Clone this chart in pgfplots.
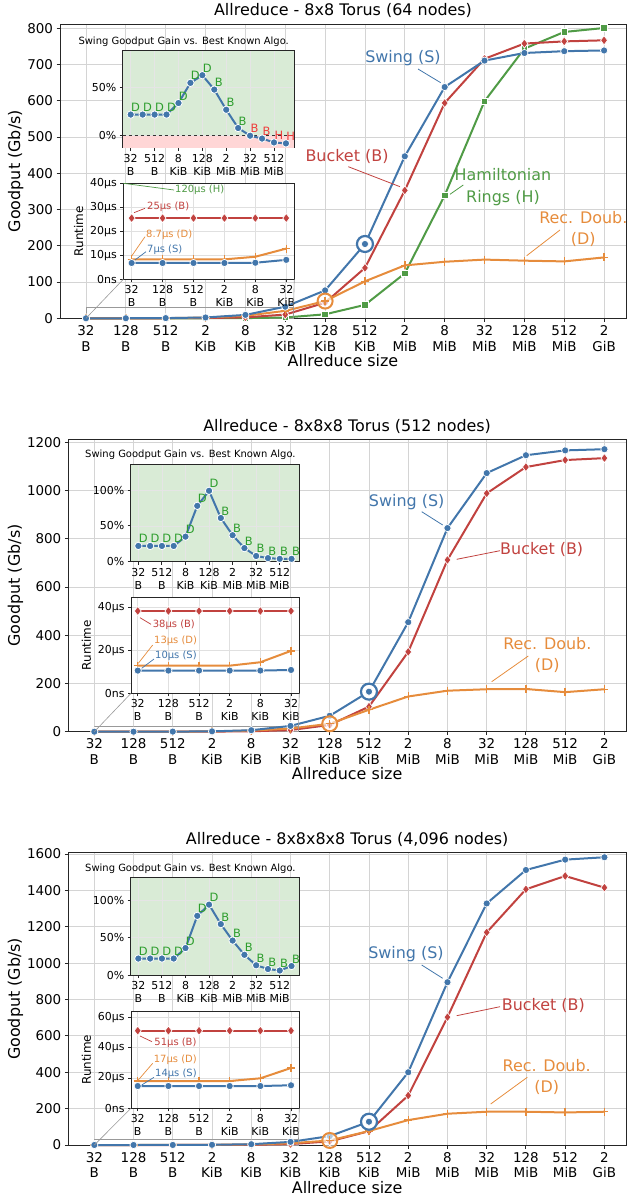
\documentclass[border=0pt]{standalone}
\usepackage{fontspec}
\setmainfont{DejaVu Sans}
\usepackage{pgfplots}
\pgfplotsset{compat=1.18}

\definecolor{sblue}{HTML}{4276AB}
\definecolor{bred}{HTML}{C1423F}
\definecolor{hgreen}{HTML}{509B46}
\definecolor{dorange}{HTML}{E68C3C}
\definecolor{lblgreen}{HTML}{2E9E2E}
\definecolor{lblred}{HTML}{F03C3C}
\definecolor{bggreen}{HTML}{D9EBD6}
\definecolor{bgpink}{HTML}{FFD6D6}

\newcommand{\ftick}{\fontsize{13.5}{16}\selectfont}
\newcommand{\flab}{\fontsize{16}{19}\selectfont}
\newcommand{\fann}{\fontsize{16}{21.5}\selectfont}
\newcommand{\fin}{\fontsize{11}{12.7}\selectfont}
\newcommand{\fsm}{\fontsize{10}{12}\selectfont}
\newcommand{\fgain}{\fontsize{11.5}{13}\selectfont}

\tikzset{zoomrect/.style={draw=black!40, line width=0.6bp}}

\pgfplotsset{
  common/.style={scale only axis, anchor=south west, tick align=outside, tick pos=left,
    major tick length=3.5bp, axis line style={draw=black!85, line width=0.9bp},
    tick style={draw=black!85, line width=0.9bp}, grid=major, clip=false,
    /pgf/number format/assume math mode=true, /pgf/number format/1000 sep={}},
  mainax/.style={common, ymin=0, xtick={0,...,13},
    xticklabels={{32\\B},{128\\B},{512\\B},{2\\KiB},{8\\KiB},{32\\KiB},{128\\KiB},{512\\KiB},{2\\MiB},{8\\MiB},{32\\MiB},{128\\MiB},{512\\MiB},{2\\GiB}},
    x tick label style={align=center, font=\ftick},
    y tick label style={font=\ftick},
    label style={font=\flab}, title style={font=\flab, yshift=-3.5bp},
    xlabel={Allreduce size}, xlabel style={yshift=4bp}, ylabel={Goodput (Gb/s)},
    ylabel style={yshift=-3bp},
    grid style={draw=black!17, line width=0.8bp}},
  gainax/.style={common, axis background/.style={fill=bggreen}, xtick={0,2,...,12},
    xticklabels={{32\\B},{512\\B},{8\\KiB},{128\\KiB},{2\\MiB},{32\\MiB},{512\\MiB}},
    x tick label style={align=center, font=\fin}, y tick label style={font=\fin},
    yticklabel={\pgfmathprintnumber{\tick}\%}, major tick length=3bp,
    grid style={draw=black!10, line width=0.6bp}},
  rtax/.style={common, axis background/.style={fill=white}, ymin=0, xtick={0,...,5},
    xticklabels={{32\\B},{128\\B},{512\\B},{2\\KiB},{8\\KiB},{32\\KiB}},
    x tick label style={align=center, font=\fin}, y tick label style={font=\fin},
    ylabel={Runtime}, ylabel style={font=\fontsize{12}{14}\selectfont}, major tick length=3bp,
    grid style={draw=black!12, line width=0.6bp}},
  pS/.style={sblue, line width=2bp, mark=*, mark size=3.6bp, mark options={fill=sblue, draw=white, line width=0.7bp, solid}},
  pB/.style={bred, line width=2bp, mark=diamond*, mark size=4.6bp, mark options={fill=bred, draw=white, line width=0.7bp}},
  pH/.style={hgreen, line width=2bp, mark=square*, mark size=3.3bp, mark options={fill=hgreen, draw=white, line width=0.7bp}},
  pD/.style={dorange, line width=2bp, mark=+, mark size=4bp, mark options={draw=dorange, line width=1.4bp}},
  pG/.style={sblue, line width=2bp, mark=*, mark size=3.7bp, mark options={fill=sblue, draw=white, line width=0.8bp}},
  lblG/.style={draw=none, nodes near coords, point meta=explicit symbolic,
    nodes near coords style={anchor=south west, inner sep=0.3bp, yshift=2.5bp, font=\fgain, text=lblgreen}},
  lblR/.style={lblG, nodes near coords style={text=lblred}},
  ringS/.style={only marks, mark=*, mark size=8bp, mark options={draw=sblue, fill=white, line width=2.2bp}},
  ringD/.style={only marks, mark=*, mark size=7.5bp, mark options={draw=dorange, fill=white, fill opacity=0.6, line width=2bp}},
}

\begin{document}
\begin{tikzpicture}
\useasboundingbox (0,0) rectangle (628bp,-1197bp);

% ---------------- Panel 1 ----------------
\begin{axis}[mainax, at={(60bp,-318.3bp)}, width=566bp, height=294.3bp,
  xmin=-0.652, xmax=13.55, ymax=812, ytick={0,100,...,800},
  title={Allreduce - 8x8 Torus (64 nodes)}]
\draw[zoomrect] (axis cs:0,0) rectangle (axis cs:5.2,30);
\coordinate (z1a) at (axis cs:0,0);
\coordinate (z1b) at (axis cs:5.2,0);
\addplot[pH] coordinates {(0,0.002) (1,0.01) (2,0.03) (3,0.14) (4,0.55) (5,2.2) (6,11) (7,37) (8,124) (9,339) (10,599) (11,744) (12,790) (13,801)};
\addplot[pB] coordinates {(0,0.01) (1,0.04) (2,0.16) (3,0.64) (4,2.6) (5,10.3) (6,43) (7,139) (8,353) (9,594) (10,716) (11,758) (12,764) (13,767)};
\addplot[pD] coordinates {(0,0.03) (1,0.12) (2,0.5) (3,2.0) (4,7.0) (5,20.5) (6,47.5) (7,102) (8,146) (9,156) (10,162) (11,159) (12,157) (13,168)};
\addplot[pS] coordinates {(0,0.04) (1,0.15) (2,0.6) (3,2.3) (4,9.4) (5,32) (6,77) (7,205) (8,447) (9,638) (10,711) (11,732) (12,737) (13,739)};
\addplot[ringD] coordinates {(6,47.5)};
\addplot[pD, only marks] coordinates {(6,47.5)};
\addplot[ringS] coordinates {(7,205)};
\addplot[pS, only marks] coordinates {(7,205)};
\end{axis}

\begin{axis}[gainax, at={(122.7bp,-147.7bp)}, width=171.6bp, height=97bp,
  xmin=-0.67, xmax=13.7, ymin=-12.5, ymax=88.5, ytick={0,50}]
\fill[bgpink] (axis cs:-0.67,-12.5) rectangle (axis cs:13.7,0);
\draw[black!80, dashed, line width=0.9bp] (axis cs:-0.67,0) -- (axis cs:13.7,0);
\addplot[pG] coordinates {(0,22) (1,22) (2,22) (3,22) (4,34) (5,55) (6,63) (7,48) (8,27) (9,8) (10,0) (11,-3) (12,-7) (13,-8)};
\addplot[lblG] coordinates {(0,22)[D] (1,22)[D] (2,22)[D] (3,22)[D] (4,34)[D] (5,55)[D] (6,63)[D] (7,48)[B] (8,27)[B] (9,8)[B]};
\addplot[lblR] coordinates {(10,0)[B] (11,-3)[B] (12,-7)[H] (13,-8)[H]};
\end{axis}

\begin{axis}[rtax, name=rt1, at={(123.3bp,-279.3bp)}, width=171bp, height=96bp,
  xmin=-0.27, xmax=5.26, ymax=40, ytick={0,10,20,30,40},
  yticklabels={0ns,10µs,20µs,30µs,40µs}]
\addplot[pB] coordinates {(0,25.5) (1,25.5) (2,25.5) (3,25.5) (4,25.5) (5,25.5)};
\addplot[pD] coordinates {(0,8.3) (1,8.3) (2,8.3) (3,8.3) (4,9.4) (5,12.8)};
\addplot[pS] coordinates {(0,6.8) (1,6.8) (2,6.8) (3,6.8) (4,6.9) (5,8.1)};
\end{axis}
\draw[zoomrect] (rt1.south west) -- (z1a) (rt1.south east) -- (z1b);

% ---------------- Panel 2 ----------------
\begin{axis}[mainax, at={(68.3bp,-731.7bp)}, width=557.7bp, height=292.4bp,
  xmin=-0.663, xmax=13.55, ymax=1212, ytick={0,200,...,1200},
  title={Allreduce - 8x8x8 Torus (512 nodes)}]
\draw[zoomrect] (axis cs:0,0) rectangle (axis cs:5.2,24);
\coordinate (z2a) at (axis cs:0,0);
\coordinate (z2b) at (axis cs:5.2,0);
\addplot[pB] coordinates {(0,0.007) (1,0.027) (2,0.11) (3,0.43) (4,1.7) (5,6.8) (6,28) (7,104) (8,331) (9,712) (10,988) (11,1097) (12,1126) (13,1134)};
\addplot[pD] coordinates {(0,0.02) (1,0.08) (2,0.32) (3,1.27) (4,4.5) (5,13.2) (6,33) (7,91) (8,146) (9,170) (10,176) (11,177) (12,164) (13,176)};
\addplot[pS] coordinates {(0,0.024) (1,0.1) (2,0.39) (3,1.55) (4,6.2) (5,24) (6,66) (7,166) (8,454) (9,844) (10,1072) (11,1146) (12,1166) (13,1171)};
\addplot[ringD] coordinates {(6,33)};
\addplot[pD, only marks] coordinates {(6,33)};
\addplot[ringS] coordinates {(7,166)};
\addplot[pS, only marks] coordinates {(7,166)};
\end{axis}

\begin{axis}[gainax, at={(130.7bp,-561.7bp)}, width=168.6bp, height=97.4bp,
  xmin=-0.65, xmax=13.66, ymin=0, ymax=136, ytick={0,50,100}]
\addplot[pG] coordinates {(0,22) (1,22) (2,22) (3,22) (4,35) (5,78) (6,99) (7,61) (8,37) (9,19) (10,8) (11,5) (12,4) (13,4)};
\addplot[lblG] coordinates {(0,22)[D] (1,22)[D] (2,22)[D] (3,22)[D] (4,35)[D] (5,78)[D] (6,99)[D] (7,61)[B] (8,37)[B] (9,19)[B] (10,8)[B] (11,5)[B] (12,4)[B] (13,4)[B]};
\end{axis}

\begin{axis}[rtax, name=rt2, at={(131bp,-693.3bp)}, width=168.3bp, height=96bp,
  xmin=-0.22, xmax=5.27, ymax=44.8, ytick={0,20,40},
  yticklabels={0ns,20µs,40µs}]
\addplot[pB] coordinates {(0,38.4) (1,38.4) (2,38.4) (3,38.4) (4,38.4) (5,38.4)};
\addplot[pD] coordinates {(0,12.9) (1,12.9) (2,12.9) (3,12.9) (4,14.5) (5,19.8)};
\addplot[pS] coordinates {(0,10.6) (1,10.6) (2,10.6) (3,10.6) (4,10.6) (5,10.9)};
\end{axis}
\draw[zoomrect] (rt2.south west) -- (z2a) (rt2.south east) -- (z2b);

% ---------------- Panel 3 ----------------
\begin{axis}[mainax, at={(68.3bp,-1145bp)}, width=557.7bp, height=292.3bp,
  xmin=-0.663, xmax=13.55, ymax=1607, ytick={0,200,...,1600},
  title={Allreduce - 8x8x8x8 Torus (4,096 nodes)}]
\draw[zoomrect] (axis cs:0,0) rectangle (axis cs:5.2,30);
\coordinate (z3a) at (axis cs:0,0);
\coordinate (z3b) at (axis cs:5.2,0);
\addplot[pB] coordinates {(0,0.005) (1,0.02) (2,0.08) (3,0.33) (4,1.3) (5,5.1) (6,20) (7,76) (8,272) (9,703) (10,1169) (11,1406) (12,1479) (13,1415)};
\addplot[pD] coordinates {(0,0.014) (1,0.057) (2,0.23) (3,0.91) (4,3.3) (5,9.6) (6,25) (7,77) (8,137) (9,172) (10,183) (11,183) (12,179) (13,183)};
\addplot[pS] coordinates {(0,0.017) (1,0.07) (2,0.28) (3,1.1) (4,4.5) (5,17.2) (6,49) (7,128) (8,400) (9,895) (10,1328) (11,1512) (12,1569) (13,1582)};
\addplot[ringD] coordinates {(6,25)};
\addplot[pD, only marks] coordinates {(6,25)};
\addplot[ringS] coordinates {(7,128)};
\addplot[pS, only marks] coordinates {(7,128)};
\end{axis}

\begin{axis}[gainax, at={(130.7bp,-975bp)}, width=168.6bp, height=97.3bp,
  xmin=-0.65, xmax=13.66, ymin=0, ymax=130, ytick={0,50,100}]
\addplot[pG] coordinates {(0,22) (1,22) (2,22) (3,22) (4,36) (5,79) (6,94) (7,68) (8,46) (9,27) (10,13) (11,8) (12,6) (13,12)};
\addplot[lblG] coordinates {(0,22)[D] (1,22)[D] (2,22)[D] (3,22)[D] (4,36)[D] (5,79)[D] (6,94)[D] (7,68)[B] (8,46)[B] (9,27)[B] (10,13)[B] (11,8)[B] (12,6)[B] (13,12)[B]};
\end{axis}

\begin{axis}[rtax, name=rt3, at={(131bp,-1108.3bp)}, width=168.3bp, height=97.3bp,
  xmin=-0.22, xmax=5.27, ymax=64.2, ytick={0,20,40,60},
  yticklabels={0ns,20µs,40µs,60µs}]
\addplot[pB] coordinates {(0,51.2) (1,51.2) (2,51.2) (3,51.2) (4,51.2) (5,51.2)};
\addplot[pD] coordinates {(0,18) (1,18) (2,18) (3,18) (4,19.8) (5,26.6)};
\addplot[pS] coordinates {(0,14.7) (1,14.7) (2,14.7) (3,14.7) (4,14.7) (5,15.2)};
\end{axis}
\draw[zoomrect] (rt3.south west) -- (z3a) (rt3.south east) -- (z3b);

% ---------------- annotations (pixel coordinates) ----------------
\begin{scope}[x=1bp, y=-1bp, font=\fann]
% panel 1
\node[text=sblue] at (403,58) {Swing (S)};
\draw[sblue, line width=0.8bp] (418,69) -- (440.7,82.7);
\node[text=bred] at (347,156.7) {Bucket (B)};
\draw[bred, line width=0.8bp] (348.3,166.7) -- (400,186.7);
\node[text=hgreen, align=center] at (503,187.3) {Hamiltonian\\Rings (H)};
\draw[hgreen, line width=0.8bp] (463.3,185) -- (450,194.3);
\node[text=dorange, align=center] at (583.3,229) {Rec. Doub.\\(D)};
\draw[dorange, line width=0.8bp] (560,230) -- (526.7,255.7);
\node[anchor=west, font=\fsm] at (75,41.7) {Swing Goodput Gain vs. Best Known Algo.};
\node[anchor=west, font=\fsm, text=hgreen, inner sep=1bp] at (174,189.3) {120µs (H)};
\draw[hgreen, line width=0.7bp] (123.3,183.3) -- (174,190);
\node[anchor=west, font=\fsm, text=bred, inner sep=1bp] at (146,206.7) {25µs (B)};
\draw[bred, line width=0.7bp] (134,212.7) -- (145,208.3);
\node[anchor=west, font=\fsm, text=dorange, inner sep=1bp] at (145,234.3) {8.7µs (D)};
\draw[dorange, line width=0.7bp] (131.7,256) -- (145,236.7);
\node[anchor=west, font=\fsm, text=sblue, inner sep=1bp] at (146,249.3) {7µs (S)};
\draw[sblue, line width=0.7bp] (135,260) -- (146,251.7);
% panel 2
\node[text=sblue] at (406.7,501.7) {Swing (S)};
\draw[sblue, line width=0.8bp] (421.7,511.7) -- (442.7,525);
\node[text=bred] at (541.7,549.3) {Bucket (B)};
\draw[bred, line width=0.8bp] (500,550.7) -- (456.7,559.3);
\node[text=dorange, align=center] at (547.3,655) {Rec. Doub.\\(D)};
\draw[dorange, line width=0.8bp] (528.3,656) -- (491.7,681.7);
\node[anchor=west, font=\fsm] at (81.7,455) {Swing Goodput Gain vs. Best Known Algo.};
\node[anchor=west, font=\fsm, text=bred, inner sep=1bp] at (151.7,625) {38µs (B)};
\draw[bred, line width=0.7bp] (140,617.7) -- (151,624.3);
\node[anchor=west, font=\fsm, text=dorange, inner sep=1bp] at (153,640.7) {13µs (D)};
\draw[dorange, line width=0.7bp] (138.3,663.3) -- (152.7,645);
\node[anchor=west, font=\fsm, text=sblue, inner sep=1bp] at (154,656) {10µs (S)};
\draw[sblue, line width=0.7bp] (141.7,668.3) -- (154,659);
% panel 3
\node[text=sblue] at (406,954.3) {Swing (S)};
\draw[sblue, line width=0.8bp] (421.7,965) -- (442.7,978.3);
\node[text=bred] at (543.3,1005) {Bucket (B)};
\draw[bred, line width=0.8bp] (500,1006.7) -- (456.7,1015.7);
\node[text=dorange, align=center] at (546.7,1077) {Rec. Doub.\\(D)};
\draw[dorange, line width=0.8bp] (527.3,1077.3) -- (490.7,1104);
\node[anchor=west, font=\fsm] at (81.7,869) {Swing Goodput Gain vs. Best Known Algo.};
\node[anchor=west, font=\fsm, text=bred, inner sep=1bp] at (153.3,1042.7) {51µs (B)};
\draw[bred, line width=0.7bp] (140,1036) -- (152,1041.7);
\node[anchor=west, font=\fsm, text=dorange, inner sep=1bp] at (152.7,1059.3) {17µs (D)};
\draw[dorange, line width=0.7bp] (138.3,1080) -- (152.7,1063.3);
\node[anchor=west, font=\fsm, text=sblue, inner sep=1bp] at (154,1073.3) {14µs (S)};
\draw[sblue, line width=0.7bp] (141.7,1085) -- (154,1077.3);
\end{scope}
\end{tikzpicture}
\end{document}
